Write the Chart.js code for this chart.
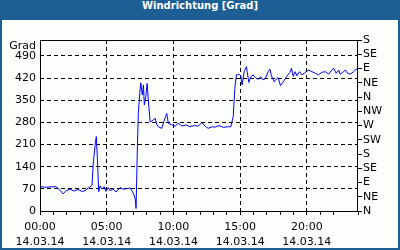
<!DOCTYPE html>
<html>
<head>
<meta charset="utf-8">
<script src="https://cdn.jsdelivr.net/npm/chart.js@4/dist/chart.umd.min.js"></script>
<style>
    body { margin: 0; }
    #frame {
        position: absolute; left: 0; top: 0;
        width: 396px; height: 228px;
        border: 2px solid #1d5f95; border-top: 0;
        padding-top: 20px;
        background: #fcfefc;
    }
    #title {
        position: absolute; left: 0; top: 0;
        width: 400px; height: 20px; line-height: 20px;
        background: #1d5f95; color: #fff;
        font: bold 10px "DejaVu Sans", sans-serif;
        text-align: center;
    }
    #chart { position: absolute; left: 0; top: 0; }
</style>
</head>
<body>
<div id="frame"></div>
<div id="title">Windrichtung [Grad]</div>
<canvas id="chart" width="400" height="250"></canvas>
<script>
// time of day in hours, 14.03.14
var hours = [0, 0.375, 0.75, 1.2, 1.5, 1.73, 1.95, 2.25, 2.55, 2.85, 3.15, 3.38, 3.6, 3.75, 3.9, 3.98, 4.15, 4.22, 4.3, 4.4, 4.5, 4.65, 4.8, 4.95, 5.1,
    5.25, 5.48, 5.7, 6.0, 6.23, 6.45, 6.75, 7.0, 7.13, 7.2, 7.3, 7.37, 7.48, 7.55, 7.67, 7.75, 7.82, 7.93, 8.03, 8.12, 8.25, 8.38, 8.63, 8.75, 8.87, 9.13, 9.32, 9.5, 9.62, 9.88, 10.13, 10.35,
    10.65, 10.95, 11.25, 11.55, 11.85, 12.13, 12.38, 12.6, 12.9, 13.13, 13.43, 13.73, 14.03, 14.3, 14.48, 14.6, 14.72, 14.9, 15.05, 15.15, 15.3, 15.47, 15.65, 15.8, 15.98, 16.15, 16.35, 16.55, 16.72, 16.9, 17.1, 17.23, 17.35, 17.55, 17.72, 17.85, 18.02, 18.23, 18.47, 18.73, 18.85, 18.98,
    19.13, 19.25, 19.45, 19.63, 19.8, 20.0, 20.13, 20.38, 20.63, 20.87, 21.13, 21.38, 21.63, 21.88, 22.0, 22.2, 22.38, 22.5, 22.7, 22.88, 23.05, 23.25, 23.5, 23.7, 23.83];
// wind direction in degrees
var direction = [77, 75, 76, 77, 66, 54, 64, 69, 63, 68, 62, 64, 72, 76, 82, 145, 215, 235, 167, 61, 79, 69, 77, 62, 74,
    64, 70, 60, 74, 69, 70, 73, 56, 40, 8, 203, 308, 372, 405, 366, 398, 335, 361, 403, 350, 282, 284, 293, 274, 266, 261, 287, 308, 277, 272, 268, 277,
    268, 272, 266, 270, 268, 279, 268, 261, 266, 265, 270, 264, 266, 266, 298, 387, 430, 432, 427, 398, 440, 456, 406, 424, 430, 421, 416, 424, 414, 419, 440, 448, 427, 408, 417, 421, 396, 408, 424, 438, 451, 425,
    440, 427, 440, 430, 435, 442, 445, 440, 435, 430, 438, 440, 432, 445, 451, 435, 445, 432, 438, 445, 435, 432, 440, 448, 444];
var timeLabels = ["00:00", "05:00", "10:00", "15:00", "20:00"];
var dateLabel = "14.03.14";
var compassLabels = ["N", "NE", "E", "SE", "S", "SW", "W", "NW", "N", "NE", "E", "SE", "S"];

var FONT = { family: "DejaVu Sans", size: 11, lineHeight: "15px" };
var DASH = [4, 3];

var points = [];
for (var i = 0; i < hours.length; i++) {
    points.push({ x: hours[i], y: direction[i] });
}

function isFive(v) {
    return Math.abs(v % 5) < 1e-6;
}

var framePlugin = {
    id: "frame",
    afterDraw: function (chart) {
        var ctx = chart.ctx;
        var a = chart.chartArea;
        ctx.save();
        ctx.strokeStyle = "#000";
        ctx.lineWidth = 1;
        ctx.strokeRect(Math.round(a.left) + 0.5, Math.round(a.top) + 0.5,
            Math.round(a.right - a.left) - 1, Math.round(a.bottom - a.top));
        ctx.fillStyle = "#000";
        ctx.font = "11px 'DejaVu Sans'";
        ctx.textAlign = "right";
        ctx.textBaseline = "middle";
        ctx.fillText("Grad", a.left - 4, a.top + 6);
        ctx.restore();
    }
};

Chart.defaults.color = "#000";

var chart = new Chart(document.getElementById("chart").getContext("2d"), {
    type: "line",
    data: {
        datasets: [{
            data: points,
            borderColor: "#0000ff",
            borderWidth: 1,
            pointRadius: 0,
            tension: 0,
            fill: false
        }]
    },
    options: {
        responsive: false,
        animation: false,
        devicePixelRatio: 1,
        layout: { padding: { top: 40, left: 0, right: 0, bottom: 0 } },
        plugins: {
            legend: { display: false },
            title: { display: false },
            tooltip: { enabled: false }
        },
        scales: {
            x: {
                type: "linear",
                min: 0,
                max: 23.833,
                afterFit: function (s) { s.height = 39; },
                border: { display: false, dash: DASH },
                grid: {
                    color: function (c) {
                        var v = c.tick.value;
                        return (isFive(v) && v > 0) ? "#000" : "transparent";
                    },
                    tickColor: "#000",
                    tickLength: 4
                },
                ticks: {
                    stepSize: 1,
                    autoSkip: false,
                    maxRotation: 0,
                    padding: 5,
                    font: FONT,
                    callback: function (v) {
                        if (!isFive(v)) return "";
                        return [timeLabels[Math.round(v / 5)], dateLabel];
                    }
                }
            },
            y: {
                position: "left",
                min: 0,
                max: 540,
                afterFit: function (s) { s.width = 40; },
                border: { display: false, dash: DASH },
                grid: {
                    drawTicks: false,
                    color: function (c) {
                        var v = c.tick.value;
                        return (v > 0 && v < 540) ? "#000" : "transparent";
                    }
                },
                ticks: {
                    stepSize: 70,
                    autoSkip: false,
                    padding: 4,
                    font: FONT,
                    callback: function (v) { return v >= 540 ? "" : v; }
                }
            },
            y2: {
                position: "right",
                min: 0,
                max: 540,
                afterFit: function (s) { s.width = 42; },
                border: { display: false },
                grid: {
                    drawOnChartArea: false,
                    tickColor: "#000",
                    tickLength: 4
                },
                ticks: {
                    stepSize: 45,
                    autoSkip: false,
                    padding: 1,
                    font: FONT,
                    callback: function (v) { return compassLabels[Math.round(v / 45)]; }
                }
            }
        }
    },
    plugins: [framePlugin]
});
</script>
</body>
</html>
